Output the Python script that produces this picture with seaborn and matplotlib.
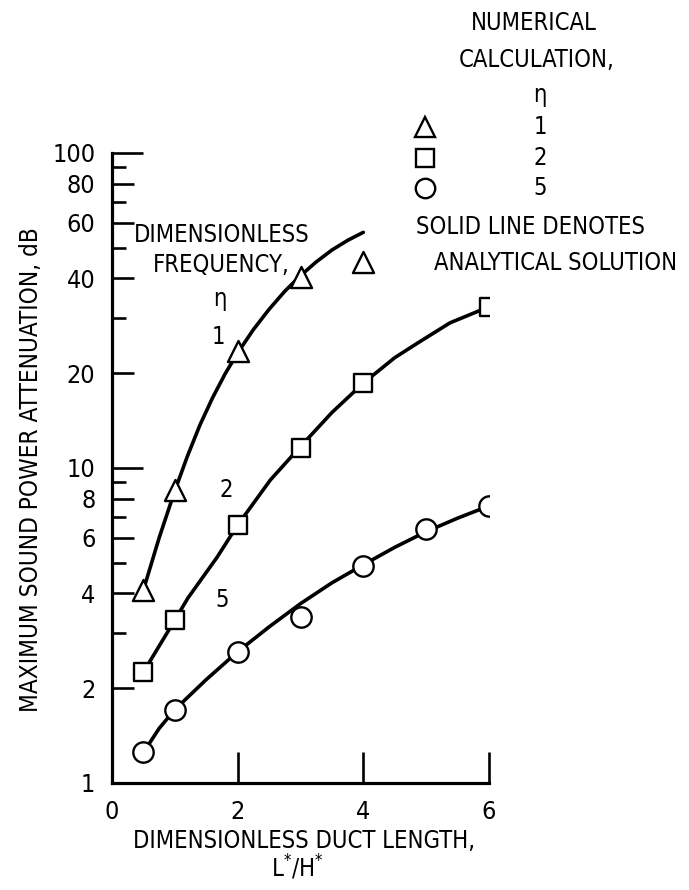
import numpy as np
import pandas as pd
import seaborn as sns
from matplotlib import pyplot as plt
from matplotlib.lines import Line2D

# numerical calculation (symbols)
x_eta1 = [0.5, 1, 2, 3, 4]
y_eta1 = [4.1, 8.5, 23.5, 40.5, 45]
x_eta2 = [0.5, 1, 2, 3, 4, 6]
y_eta2 = [2.25, 3.29, 6.59, 11.6, 18.6, 32.5]
x_eta5 = [0.5, 1, 2, 3, 4, 5, 6]
y_eta5 = [1.25, 1.71, 2.6, 3.37, 4.9, 6.4, 7.55]

# analytical solution (solid lines)
xa_eta1 = [0.5, 0.75, 1, 1.2, 1.4, 1.6, 1.8, 2, 2.25, 2.5, 2.75, 3, 3.25, 3.5, 3.75, 4]
ya_eta1 = [4.1, 6.0, 8.47, 10.9, 13.7, 16.7, 19.9, 23.2, 27.5, 31.9, 36.4, 40.8,
           45.1, 49.2, 52.8, 56.0]
xa_eta2 = [0.5, 1, 1.21, 1.67, 2, 2.52, 3, 3.5, 4, 4.5, 4.86, 5.38, 6]
ya_eta2 = [2.25, 3.29, 3.87, 5.2, 6.59, 9.16, 11.7, 15.0, 18.6, 22.4, 24.9, 28.9, 32.5]
xa_eta5 = [0.5, 0.75, 1, 1.5, 2, 2.5, 3, 3.5, 4, 4.5, 5, 5.5, 6]
ya_eta5 = [1.25, 1.49, 1.71, 2.13, 2.61, 3.13, 3.71, 4.32, 4.93, 5.6, 6.28, 6.93, 7.58]

y_major = [1, 2, 4, 6, 8, 10, 20, 40, 60, 80, 100]
y_minor = [3, 5, 7, 9, 30, 50, 70, 90]
x_ticks = [0, 2, 4, 6]

sns.set_theme(style='ticks')
plt.rcParams['font.family'] = ['DejaVu Sans']
plt.rcParams['font.stretch'] = 'condensed'
plt.rcParams['mathtext.fontset'] = 'dejavusans'
for k in ['text.color', 'axes.labelcolor', 'xtick.color', 'ytick.color', 'axes.edgecolor']:
    plt.rcParams[k] = 'black'

W, H = 689, 890
fig = plt.figure(figsize=(W / 100, H / 100), dpi=100)
ax = fig.add_axes([112 / W, 1 - 783 / H, (489 - 112) / W, (783 - 153) / H])

lw = 2.6
for xa, ya in [(xa_eta1, ya_eta1), (xa_eta2, ya_eta2), (xa_eta5, ya_eta5)]:
    d = pd.DataFrame({'x': xa, 'y': ya})
    sns.lineplot(data=d, x='x', y='y', ax=ax, color='black', linewidth=lw,
                 estimator=None, sort=True, zorder=2)

for xs, ys, mk, s in [(x_eta1, y_eta1, '^', 230), (x_eta2, y_eta2, 's', 185),
                      (x_eta5, y_eta5, 'o', 215)]:
    d = pd.DataFrame({'x': xs, 'y': ys})
    sns.scatterplot(data=d, x='x', y='y', ax=ax, marker=mk, s=s,
                    facecolor='white', edgecolor='black', linewidth=1.7, zorder=3)

ax.set_yscale('log')
ax.set_xlim(0, 6)
ax.set_ylim(1, 100)
ax.set_yticks(y_major)
ax.set_yticklabels([str(v) for v in y_major])
ax.set_yticks(y_minor, minor=True)
ax.set_yticklabels([], minor=True)
ax.set_xticks(x_ticks)
ax.set_xticklabels([str(v) for v in x_ticks])
ax.xaxis.set_minor_locator(plt.NullLocator())

sns.despine(ax=ax)
for sp in ['left', 'bottom']:
    ax.spines[sp].set_linewidth(2.3)
ax.tick_params(axis='y', which='major', direction='in', length=16, width=1.9,
               labelsize=18, pad=12)
ax.tick_params(axis='y', which='minor', direction='in', length=10, width=1.9)
ax.tick_params(axis='x', which='major', direction='in', length=22, width=1.9,
               labelsize=18, pad=12)
# longer ticks at the decades
for t, v in zip(ax.yaxis.get_major_ticks(), y_major):
    if v in (10, 100):
        t.tick1line.set_markersize(22)
ax.xaxis.get_major_ticks()[0].tick1line.set_visible(False)
ax.set_xlabel('')
ax.set_ylabel('')

fs = 17


def ftext(px, py, s, **kw):
    kw.setdefault('fontsize', fs)
    fig.text(px / W, 1 - py / H, s, ha='center', va='center', **kw)


ftext(31, 470, 'MAXIMUM SOUND POWER ATTENUATION, dB', rotation=90, fontsize=17.5)
ftext(304, 841, 'DIMENSIONLESS DUCT LENGTH,')
ftext(297, 868, r'L$^{*}$/H$^{*}$')

ftext(222, 235, 'DIMENSIONLESS')
ftext(221, 265, 'FREQUENCY,')
ftext(220, 299, 'η')
ftext(218, 337, '1')
ftext(226, 490, '2')
ftext(222, 600, '5')

ftext(534, 23, 'NUMERICAL')
ftext(537, 60, 'CALCULATION,')
ftext(540, 95, 'η')
for py, mk, lab, ms in [(127, '^', '1', 15), (158, 's', '2', 13.5), (188, 'o', '5', 14)]:
    fig.add_artist(Line2D([425 / W], [1 - py / H], marker=mk, markersize=ms,
                          markerfacecolor='white', markeredgecolor='black',
                          markeredgewidth=1.7, transform=fig.transFigure))
    ftext(540, py, lab)
ftext(530, 227, 'SOLID LINE DENOTES')
ftext(556, 263, 'ANALYTICAL SOLUTION')

fig.savefig('out.png', dpi=100)
